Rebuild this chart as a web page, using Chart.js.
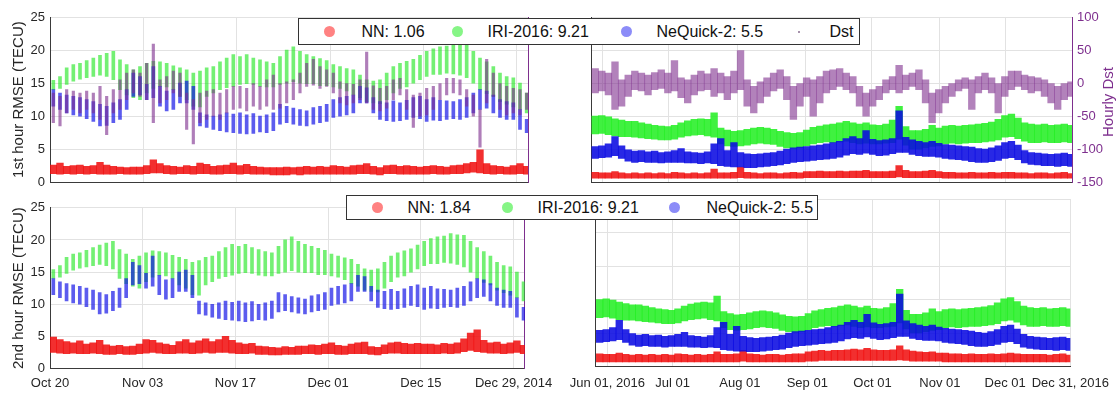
<!DOCTYPE html>
<html>
<head>
<meta charset="utf-8">
<title>RMSE vs Dst</title>
<script src="https://cdn.jsdelivr.net/npm/chart.js@4.4.0/dist/chart.umd.min.js"></script>
<style>
  html, body { margin: 0; padding: 0; background: #fff; }
  body { width: 1118px; height: 394px; position: relative; overflow: hidden;
         font-family: 'Liberation Sans', Arial, sans-serif; }
  canvas { position: absolute; }
  .legend { position: absolute; background: #fff; border: 1.5px solid #333; box-sizing: border-box; }
  .dot { position: absolute; top: 50%; width: 11px; height: 11px; margin: -5.5px 0 0 -5.5px; border-radius: 50%; }
  .txt { position: absolute; top: 0; bottom: 0; display: flex; align-items: center; font-size: 16px; color: #111; white-space: nowrap; }
  #dstTitle { position: absolute; left: 1058px; top: 93px; width: 100px; height: 18px; line-height: 18px;
              text-align: center; font-size: 15px; color: #7E2F8E; transform: rotate(-90deg); }
</style>
</head>
<body>
<canvas id="tl" width="560" height="195" style="left:0;top:0"></canvas>
<canvas id="tr" width="558" height="195" style="left:560px;top:0"></canvas>
<canvas id="bl" width="560" height="199" style="left:0;top:195px"></canvas>
<canvas id="br" width="558" height="199" style="left:560px;top:195px"></canvas>

<div class="legend" style="left:298px;top:18px;width:562px;height:27px">
  <span class="dot" style="left:30.5px;background:#ff8282"></span><span class="txt" style="left:62.5px">NN: 1.06</span>
  <span class="dot" style="left:158.5px;background:#86f586"></span><span class="txt" style="left:188.5px">IRI-2016: 9.21</span>
  <span class="dot" style="left:327.5px;background:#8c8cf8"></span><span class="txt" style="left:357.5px">NeQuick-2: 5.5</span>
  <span class="dot" style="left:499.5px;width:2px;height:2px;margin:-1px 0 0 -1px;background:#8a6f90"></span><span class="txt" style="left:530.5px">Dst</span>
</div>
<div class="legend" style="left:346px;top:195px;width:472px;height:25px">
  <span class="dot" style="left:30.5px;background:#ff8282"></span><span class="txt" style="left:60.5px">NN: 1.84</span>
  <span class="dot" style="left:160.5px;background:#86f586"></span><span class="txt" style="left:190.5px">IRI-2016: 9.21</span>
  <span class="dot" style="left:327.5px;background:#8c8cf8"></span><span class="txt" style="left:359.5px">NeQuick-2: 5.5</span>
</div>
<div id="dstTitle">Hourly Dst</div>

<script>
// ---- 2014 period: one value range (low, high) per day from Oct 20 ----
const leftStart = 'Oct 20, 2014';
const leftTickDays = [0, 14, 28, 42, 56, 70];
const leftTickLabels = ['Oct 20', 'Nov 03', 'Nov 17', 'Dec 01', 'Dec 15', 'Dec 29, 2014'];

const iriLoL = [14.0,14.2,14.8,15.3,15.6,15.8,16.0,16.2,16.0,15.5, 14.0,13.2,12.8,12.5,13.5,14.2,14.5,14.4,14.0,13.0,
  12.5,11.5,11.4,13.0,13.5,14.0,14.3,14.5,14.8,14.9, 14.8,14.5,14.4,14.4,14.8,15.0,15.2,15.0,14.9,14.9,
  14.6,14.6,14.4,14.2,13.8,13.2,12.8,12.2,12.0,11.9, 12.5,13.5,14.2,14.4,15.0,15.5,16.0,16.3,16.3,16.5,
  16.4,16.2,15.8,15.0,14.0,13.4,13.0,12.2,11.8,11.4, 11.0,10.5];
const iriHiL = [15.4,16.0,17.3,17.8,18.0,18.4,18.8,19.2,19.5,19.8, 18.5,17.8,17.0,17.5,18.0,18.3,18.2,18.0,17.6,17.3,
  17.0,16.5,16.8,17.3,17.5,18.2,18.8,19.3,19.0,19.3, 18.8,18.5,18.2,18.0,19.0,20.0,20.5,19.8,19.3,19.0,
  18.7,18.4,17.8,17.5,17.2,17.0,16.2,15.5,15.3,15.5, 16.5,17.5,18.0,18.3,18.6,19.2,19.8,20.2,20.5,20.6,
  21.0,20.8,20.7,19.8,18.8,18.2,17.5,16.5,16.0,15.8, 15.0,13.5];

const neqLoL = [11.5,11.0,10.5,10.2,10.0,9.6,9.2,8.5,8.6,9.0, 9.5,11.0,13.0,13.2,12.5,12.8,11.5,10.8,11.0,12.0,
  12.0,11.0,8.5,8.3,8.0,7.8,7.6,7.5,7.4,7.3, 7.4,7.6,7.5,7.8,8.8,9.0,8.8,8.6,8.5,8.8,
  9.0,9.2,9.8,10.0,10.2,10.5,12.0,12.0,10.5,9.5, 9.3,9.2,9.3,9.5,9.8,9.6,9.2,9.4,9.3,9.5,
  9.6,9.5,9.8,10.5,11.0,11.2,10.5,9.8,9.5,9.5, 8.0,7.5];
const neqHiL = [14.0,13.5,13.2,13.0,12.8,12.5,12.2,11.8,11.5,12.0, 12.5,14.0,16.5,16.0,14.8,17.5,14.5,13.8,14.0,15.0,
  15.3,14.5,10.5,10.2,10.0,10.2,10.5,10.3,10.5,10.2, 10.4,10.0,10.2,10.5,11.8,11.5,11.2,11.0,10.8,11.3,
  11.5,11.8,12.5,12.8,13.0,13.2,14.5,14.3,12.8,12.2, 12.0,12.3,12.0,12.4,12.8,13.0,12.5,12.8,12.4,12.3,
  12.2,12.5,12.8,13.5,14.0,13.8,13.2,12.5,12.2,12.0, 11.0,9.5];

const nn1LoL = [1.3,1.2,1.3,1.2,1.3,1.2,1.3,1.2,1.2,1.2, 1.3,1.2,1.2,1.2,1.3,1.4,1.4,1.3,1.2,1.3,
  1.3,1.2,1.3,1.3,1.2,1.2,1.3,1.3,1.2,1.3, 1.2,1.2,1.2,1.1,1.1,1.1,1.2,1.1,1.2,1.2,
  1.2,1.2,1.2,1.2,1.2,1.2,1.3,1.3,1.2,1.1, 1.3,1.3,1.2,1.2,1.2,1.2,1.2,1.3,1.2,1.2,
  1.3,1.3,1.4,1.5,1.4,1.3,1.2,1.3,1.2,1.2, 1.3,1.2];
const nn1HiL = [2.6,2.9,2.4,2.5,2.6,2.4,2.5,3.0,2.6,2.4, 2.3,2.2,2.3,2.3,2.5,3.4,2.8,2.5,2.4,2.3,
  2.5,2.4,2.9,2.7,2.4,2.5,2.6,2.9,2.5,2.7, 2.4,2.3,2.2,2.2,2.2,2.3,2.2,2.3,2.4,2.3,
  2.4,2.3,2.5,2.4,2.3,2.5,2.6,2.8,2.4,2.2, 2.5,2.6,2.4,2.5,2.4,2.3,2.4,2.5,2.4,2.3,
  2.5,2.6,2.8,3.0,4.9,2.8,2.5,2.4,2.3,2.5, 2.8,2.4];

const nn2LoL = [2.5,2.4,2.3,2.4,2.3,2.3,2.4,2.3,2.2,2.2, 2.3,2.2,2.2,2.3,2.4,2.5,2.4,2.3,2.3,2.4,
  2.4,2.3,2.4,2.5,2.4,2.5,2.5,2.4,2.3,2.3, 2.4,2.2,2.2,2.1,2.1,2.2,2.2,2.2,2.3,2.3,
  2.2,2.3,2.3,2.2,2.2,2.3,2.3,2.3,2.2,2.1, 2.3,2.4,2.4,2.3,2.3,2.3,2.3,2.3,2.3,2.4,
  2.3,2.4,2.6,2.8,2.6,2.5,2.4,2.4,2.3,2.4, 2.5,2.3];
const nn2HiL = [4.9,4.5,4.2,4.0,4.3,3.8,4.0,4.4,3.7,3.5, 3.6,3.4,3.5,3.8,4.5,4.4,4.0,3.8,3.6,4.2,
  4.5,4.0,4.3,4.6,4.2,4.5,5.0,4.4,4.0,3.8, 3.9,3.5,3.4,3.3,3.2,3.4,3.3,3.5,3.5,3.7,
  3.6,3.8,4.0,3.6,3.5,3.8,4.0,4.1,3.4,3.3, 3.7,4.0,4.1,3.9,3.8,3.9,3.8,3.8,3.7,3.9,
  3.8,4.0,4.6,5.5,6.0,4.4,4.0,4.1,3.8,4.0, 4.3,3.6];

const dstLoL = [-60,-65,-45,-40,-45,-40,-45,-55,-78,-45, -40,-25,-15,-20,-25,-60,-30,-25,-15,-20,
  -70,-92,-60,-55,-50,-55,-45,-40,-38,-42, -35,-40,-35,-40,-38,-30,-25,-15,-5,-3,
  -8,-5,-15,-30,-33,-30,-25,-30,-40,-42, -38,-25,-18,-40,-67,-50,-48,-40,-25,-18,
  -15,-18,-35,-50,-97,-30,-20,-40,-48,-45, -48,-40];
const dstHiL = [-15,-20,-10,-12,-15,-12,-15,-5,-20,-10, 5,15,20,15,30,59,5,10,18,15,
  -15,-25,-15,-12,-10,-15,-10,-5,-5,-8, 0,-5,5,12,0,2,5,15,30,36,
  25,20,15,2,0,-2,5,47,-4,-8, -5,5,7,-10,-18,-15,-8,-5,0,7,
  7,5,-10,-18,-40,36,15,0,-5,-8, -10,-15];

// ---- 2016 period: one range per 3-day bin, first bin 4 days before Jun 01 ----
const rightStart = 'May 28, 2016';
const rightTickDays = [0, 30, 61, 92, 122, 153, 183, 213];
const rightTickLabels = ['Jun 01, 2016', 'Jul 01', 'Aug 01', 'Sep 01', 'Oct 01', 'Nov 01', 'Dec 01', 'Dec 31, 2016'];

const iriLoR = [7.3,7.4,7.2,7.0,6.9,6.9,6.8,6.7,6.6,6.5, 6.4,6.4,6.5,6.8,7.0,7.1,7.2,7.0,6.8,5.8,
  5.5,5.4,5.5,5.6,5.8,5.9,5.8,5.7,5.4,5.2, 5.1,5.2,5.5,5.8,6.0,6.1,6.0,6.1,6.2,6.0,
  5.8,5.9,5.8,5.8,5.9,6.0,6.5,5.6,5.0,5.0, 5.2,5.4,5.5,5.8,5.9,5.8,5.9,6.0,6.0,6.1,
  6.2,6.4,6.8,6.9,6.6,6.2,6.0,6.0,6.1,6.0, 6.0,6.1,6.0];
const iriHiR = [10.0,10.1,9.9,9.6,9.4,9.2,9.2,9.0,8.8,8.6, 8.5,8.4,8.6,9.0,9.3,9.5,9.6,9.5,10.5,8.2,
  7.9,7.7,7.8,8.0,8.2,8.3,8.2,8.0,7.7,7.5, 7.4,7.5,7.9,8.3,8.5,8.7,8.8,9.0,9.2,9.0,
  8.8,9.0,8.7,8.6,8.8,9.4,11.5,8.4,7.8,7.8, 8.0,8.6,8.2,8.5,8.6,8.5,8.6,8.7,8.8,8.9,
  9.1,9.5,10.1,10.3,9.7,9.0,8.8,8.7,8.8,8.6, 8.7,8.8,8.6];

const neqLoR = [3.6,3.7,3.8,4.0,3.6,3.2,3.0,3.1,3.0,3.0, 2.9,3.0,3.0,3.0,2.9,2.9,2.8,2.9,2.8,2.5,
  2.4,2.3,2.3,2.2,2.2,2.3,2.4,2.5,2.6,2.8, 3.0,3.1,3.2,3.3,3.4,3.5,3.6,3.8,4.1,4.3,
  4.2,4.4,4.2,4.0,4.1,4.3,4.5,4.5,4.2,4.0, 3.9,3.9,3.8,3.6,3.5,3.4,3.3,3.1,3.0,3.0,
  3.1,3.3,3.6,3.7,3.4,2.9,2.7,2.6,2.5,2.5, 2.4,2.5,2.4];
const neqHiR = [5.4,5.5,5.8,6.9,5.5,4.9,4.7,4.8,4.6,4.7, 4.5,4.6,4.8,5.1,4.6,4.5,4.4,4.6,5.8,6.6,
  4.8,6.0,4.5,4.3,4.2,4.3,4.4,4.5,4.7,5.0, 5.2,5.3,5.4,5.5,5.6,5.8,6.0,6.2,6.6,6.9,
  6.6,7.8,6.5,6.3,6.4,6.6,10.8,6.8,6.4,6.2, 6.0,6.2,5.9,5.7,5.6,5.5,5.4,5.3,5.1,5.0,
  5.2,5.5,6.0,6.2,5.6,4.8,4.5,4.4,4.3,4.2, 4.3,4.4,4.2];

const nn1LoR = [0.6,0.6,0.6,0.6,0.6,0.6,0.6,0.6,0.6,0.6, 0.6,0.6,0.6,0.6,0.6,0.6,0.6,0.6,0.6,0.6,
  0.6,0.6,0.7,0.6,0.6,0.6,0.6,0.6,0.6,0.6, 0.6,0.6,0.7,0.7,0.7,0.7,0.7,0.7,0.7,0.7,
  0.7,0.7,0.7,0.7,0.7,0.7,0.8,0.7,0.7,0.7, 0.7,0.7,0.7,0.6,0.6,0.6,0.6,0.6,0.6,0.6,
  0.6,0.6,0.6,0.6,0.6,0.6,0.6,0.6,0.6,0.6, 0.6,0.6,0.6];
const nn1HiR = [1.5,1.4,1.4,1.6,1.4,1.3,1.4,1.3,1.4,1.3, 1.4,1.3,1.5,1.4,1.3,1.4,1.3,1.4,2.0,1.4,
  1.4,1.5,2.3,1.5,1.4,1.3,1.4,1.4,1.3,1.4, 1.5,1.4,1.6,1.6,1.7,1.6,1.6,1.7,1.6,1.7,
  1.7,1.8,1.6,1.6,1.6,1.7,2.5,1.8,1.6,1.6, 1.7,1.8,1.6,1.5,1.5,1.4,1.4,1.5,1.4,1.4,
  1.5,1.4,1.5,1.5,1.4,1.4,1.3,1.4,1.4,1.3, 1.4,1.5,1.3];

const nn2LoR = [0.7,0.7,0.7,0.7,0.7,0.7,0.7,0.7,0.7,0.7, 0.7,0.7,0.7,0.7,0.7,0.7,0.7,0.7,0.7,0.7,
  0.7,0.7,0.8,0.7,0.7,0.7,0.7,0.7,0.7,0.7, 0.7,0.7,0.8,0.8,0.9,0.9,0.9,0.9,0.9,0.9,
  0.9,0.9,0.9,0.9,0.9,0.9,1.0,0.9,0.8,0.8, 0.8,0.8,0.8,0.7,0.7,0.7,0.7,0.7,0.7,0.7,
  0.7,0.7,0.7,0.7,0.7,0.7,0.7,0.7,0.7,0.7, 0.7,0.7,0.7];
const nn2HiR = [1.9,1.8,1.8,2.0,1.8,1.7,1.8,1.7,1.8,1.7, 1.8,1.7,1.9,1.8,1.7,1.8,1.7,1.8,2.2,1.8,
  1.8,1.9,2.4,1.9,1.8,1.7,1.8,1.8,1.7,1.8, 1.9,1.9,2.2,2.3,2.4,2.3,2.4,2.4,2.5,2.6,
  2.5,2.7,2.5,2.4,2.4,2.5,3.1,2.5,2.3,2.2, 2.1,2.2,2.0,2.0,1.9,1.9,1.8,1.9,1.8,1.8,
  1.9,1.8,1.9,2.0,1.9,1.8,1.8,1.8,1.8,1.7, 1.8,1.9,1.7];

const dstLoR = [-15,-12,-18,-40,-35,-20,-10,-12,-18,-10, -8,-15,-12,-22,-30,-18,-12,-10,-20,-15,
  -25,-15,-10,-35,-45,-30,-20,-12,-8,-25, -55,-35,-20,-50,-30,-15,-10,-5,-10,-15,
  -35,-50,-35,-25,-15,-10,-15,-10,-5,-10, -30,-60,-45,-30,-20,-12,-8,-40,-15,-10,
  -15,-45,-20,-10,-5,-10,-15,-12,-20,-30, -40,-25,-20];
const dstHiR = [22,18,15,32,5,12,18,15,12,16, 20,15,34,8,5,12,18,14,22,15,
  10,18,49,5,-5,2,8,15,20,10, -5,0,8,5,10,18,20,22,15,10,
  -5,-15,-10,-5,5,10,27,12,15,20, 5,-15,-10,-5,0,5,8,5,10,15,
  8,0,10,18,18,12,10,8,5,0, -5,0,2];

const rmseTicks = [0, 5, 10, 15, 20, 25];
const dstTicks = [-150, -100, -50, 0, 50, 100];

// ---- drawing ----
const FONT = "'Liberation Sans', Arial, sans-serif";
const TXT = '#262626';
const AXIS = '#3a3a3a';
const GRID = '#e2e2e2';
const PURPLE = '#7E2F8E';

// x position of each value: middle of its day (left) or of its 3-day bin (right, May 28 = day -4)
const leftX = iriLoL.map((v, i) => i + 0.5);
const rightX = iriLoR.map((v, i) => -4 + 3 * i + 0.5);

function band(xs, lo, hi, color, w, order, yAxisID) {
  return {
    data: xs.map((x, i) => ({ x: x, y: [lo[i], hi[i]] })),
    backgroundColor: color, borderWidth: 0, barThickness: w,
    grouped: false, order: order, yAxisID: yAxisID || 'y'
  };
}

function fixTicks(vals) {
  return function (s) { s.ticks = vals.map(v => ({ value: v })); };
}

function panel(id, p) {
  const scales = {
    x: {
      type: 'linear', min: p.xmin, max: p.xmax, offset: false,
      afterBuildTicks: fixTicks(p.tickDays),
      afterFit: s => { s.height = p.xh; },
      grid: { color: GRID, offset: false, drawTicks: false },
      border: { color: AXIS, width: 1 },
      ticks: {
        display: p.xlabels, autoSkip: false, maxRotation: 0, padding: p.xpad || 7,
        color: TXT, font: { family: FONT, size: 13 },
        callback: (v, i) => p.tickLabels[i]
      }
    },
    y: {
      position: 'left', min: 0, max: 25,
      afterBuildTicks: fixTicks(rmseTicks),
      afterFit: s => { s.width = p.yw; },
      grid: { color: GRID, drawTicks: false },
      border: { color: AXIS, width: 1 },
      ticks: { display: p.ylabels, padding: 5, color: TXT, font: { family: FONT, size: 13 } },
      title: { display: !!p.ytitle, text: p.ytitle || '', color: TXT, padding: { top: 10, bottom: 0 },
               font: { family: FONT, size: 15 } }
    }
  };
  if (p.dst) {
    scales.dst = {
      position: 'right', display: true, min: -150, max: 100,
      afterBuildTicks: fixTicks(dstTicks),
      afterFit: s => { s.width = p.dstw; },
      grid: { drawOnChartArea: false, drawTicks: false },
      border: { color: PURPLE, width: 1 },
      ticks: { display: p.dstlabels, padding: 5, color: PURPLE, font: { family: FONT, size: 13 } }
    };
  }
  return new Chart(document.getElementById(id), {
    type: 'bar',
    data: { datasets: p.datasets },
    options: {
      responsive: false, animation: false,
      layout: { padding: { top: p.top, right: p.right || 0, left: 0, bottom: 0 } },
      plugins: { legend: { display: false }, tooltip: { enabled: false } },
      scales: scales
    }
  });
}

const cIri = 'rgba(30,230,30,0.62)', cNeq = 'rgba(15,15,230,0.68)', cNN = 'rgba(240,10,10,0.85)';
const cDstL = 'rgba(126,47,142,0.62)', cDstR = 'rgba(126,47,142,0.6)';
const cIriR = 'rgba(30,238,30,0.85)', cNeqR = 'rgba(10,10,225,0.88)';

panel('tl', {
  xmin: 0, xmax: 71.7, tickDays: leftTickDays, tickLabels: leftTickLabels, xlabels: false, xh: 10,
  yw: 50, ylabels: true, ytitle: '1st hour RMSE (TECU)', top: 17,
  dst: true, dstw: 32, dstlabels: false,
  datasets: [
    band(leftX, dstLoL, dstHiL, cDstL, 2.5, 0, 'dst'),
    band(leftX, neqLoL, neqHiL, cNeq, 3, 1),
    band(leftX, iriLoL, iriHiL, cIri, 3, 2),
    band(leftX, nn1LoL, nn1HiL, cNN, 6.7, 3)
  ]
});

panel('tr', {
  xmin: -5.4, xmax: 213, tickDays: rightTickDays, tickLabels: rightTickLabels, xlabels: false, xh: 10,
  yw: 31, ylabels: false, top: 17,
  dst: true, dstw: 46, dstlabels: true,
  datasets: [
    band(rightX, dstLoR, dstHiR, cDstR, 6.7, 0, 'dst'),
    band(rightX, neqLoR, neqHiR, cNeqR, 6.7, 1),
    band(rightX, iriLoR, iriHiR, cIriR, 6.7, 2),
    band(rightX, nn1LoR, nn1HiR, cNN, 6.7, 3)
  ]
});

panel('bl', {
  xmin: 0, xmax: 71.7, tickDays: leftTickDays, tickLabels: leftTickLabels, xlabels: true, xh: 25.5,
  yw: 50, ylabels: true, ytitle: '2nd hour RMSE (TECU)', top: 5,
  dst: true, dstw: 31, dstlabels: false,
  datasets: [
    band(leftX, neqLoL, neqHiL, cNeq, 3, 1),
    band(leftX, iriLoL, iriHiL, cIri, 3, 2),
    band(leftX, nn2LoL, nn2HiL, cNN, 6.7, 3)
  ]
});

panel('br', {
  xmin: -5.4, xmax: 213, tickDays: rightTickDays, tickLabels: rightTickLabels, xlabels: true, xh: 27.5, xpad: 9,
  yw: 31, ylabels: false, top: 4, right: 46,
  datasets: [
    band(rightX, neqLoR, neqHiR, cNeqR, 6.7, 1),
    band(rightX, iriLoR, iriHiR, cIriR, 6.7, 2),
    band(rightX, nn2LoR, nn2HiR, cNN, 6.7, 3)
  ]
});
</script>
</body>
</html>
